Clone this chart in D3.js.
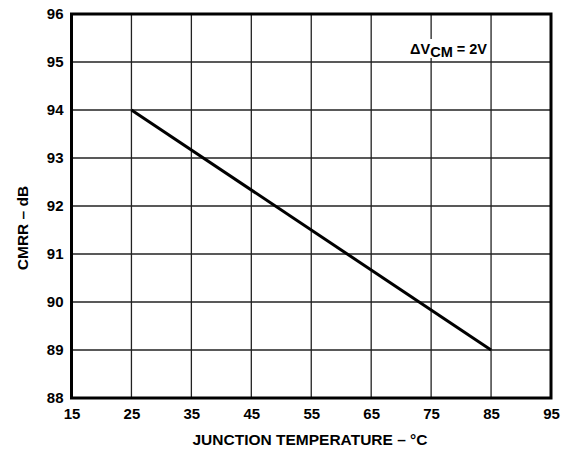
<!DOCTYPE html>
<html>
<head>
<meta charset="utf-8">
<script src="https://cdn.jsdelivr.net/npm/d3@7"></script>
<style>
  html, body { margin: 0; padding: 0; background: #fff; }
  svg { display: block; }
  text { font-family: "Liberation Sans", Arial, Helvetica, sans-serif; font-weight: bold; fill: #000; }
</style>
</head>
<body>
<svg id="chart" width="563" height="450"></svg>
<script>
// CMRR versus junction temperature
const temperature = [25, 85];
const cmrr = [94, 89];
const xTicks = [15, 25, 35, 45, 55, 65, 75, 85, 95];
const yTicks = [88, 89, 90, 91, 92, 93, 94, 95, 96];

const svg = d3.select("#chart");
const plotLeft = 71.5, plotRight = 551, plotTop = 14, plotBottom = 398;

const x = d3.scaleLinear().domain([15, 95]).range([plotLeft, plotRight]);
const y = d3.scaleLinear().domain([88, 96]).range([plotBottom, plotTop]);

// grid
const grid = svg.append("g").attr("stroke", "#222").attr("stroke-width", 1.3);
grid.selectAll("line.v").data(xTicks.slice(1, -1)).join("line").attr("class", "v")
  .attr("x1", d => x(d)).attr("x2", d => x(d)).attr("y1", plotTop).attr("y2", plotBottom);
grid.selectAll("line.h").data(yTicks.slice(1, -1)).join("line").attr("class", "h")
  .attr("y1", d => y(d)).attr("y2", d => y(d)).attr("x1", plotLeft).attr("x2", plotRight);

// annotation with white backing
const ann = svg.append("g");
ann.append("rect").attr("x", 408).attr("y", 39).attr("width", 81).attr("height", 19).attr("fill", "#fff");
const t = ann.append("text").attr("x", 487).attr("y", 54).attr("text-anchor", "end").style("font-size", "14.5px");
t.append("tspan").text("\u0394V");
t.append("tspan").attr("dy", 3).text("CM");
t.append("tspan").attr("dy", -3).text(" = 2V");

// data line
svg.append("path")
  .datum(temperature.map((d, i) => [d, cmrr[i]]))
  .attr("fill", "none").attr("stroke", "#000").attr("stroke-width", 3)
  .attr("d", d3.line().x(d => x(d[0])).y(d => y(d[1])));

// frame
svg.append("rect").attr("x", plotLeft).attr("y", plotTop)
  .attr("width", plotRight - plotLeft).attr("height", plotBottom - plotTop)
  .attr("fill", "none").attr("stroke", "#000").attr("stroke-width", 3);

// axes
const xAxis = svg.append("g").attr("transform", `translate(0,${plotBottom})`)
  .call(d3.axisBottom(x).tickValues(xTicks).tickSize(0).tickPadding(10));
xAxis.select(".domain").remove();

const yAxis = svg.append("g").attr("transform", `translate(${plotLeft},0)`)
  .call(d3.axisLeft(y).tickValues(yTicks).tickSize(0).tickPadding(8));
yAxis.select(".domain").remove();

svg.selectAll(".tick text")
  .style("font-family", "'Liberation Sans', Arial, sans-serif")
  .style("font-weight", "bold").style("font-size", "15px").attr("fill", "#000");

// axis titles
svg.append("text").attr("x", 310).attr("y", 445).attr("text-anchor", "middle")
  .style("font-size", "15.5px").text("JUNCTION TEMPERATURE \u2013 \u00B0C");
svg.append("text").attr("transform", "translate(28,228) rotate(-90)")
  .attr("text-anchor", "middle").style("font-size", "15.5px").text("CMRR \u2013 dB");
</script>
</body>
</html>
